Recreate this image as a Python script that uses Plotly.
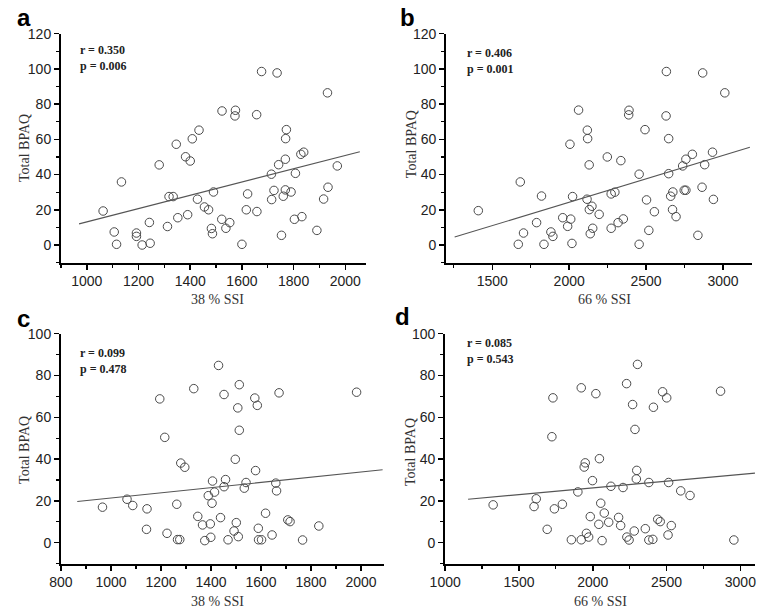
import plotly.graph_objects as go

W, H = 761, 610

# ---------------- data ----------------
a_x = [1063, 1134, 1106, 1115, 1192, 1192, 1214, 1245, 1242, 1280,
       1312, 1318, 1334, 1346, 1352, 1382, 1400, 1390, 1408, 1434,
       1428, 1455, 1471, 1490, 1482, 1486, 1522, 1538, 1553, 1523,
       1575, 1573, 1657, 1676, 1736, 1931, 1600, 1617, 1622, 1658,
       1772, 1769, 1768, 1742, 1828, 1839, 1969, 1714, 1807, 1724,
       1768, 1790, 1760, 1715, 1933, 1916, 1803, 1832, 1753, 1890]
a_y = [19.3, 35.8, 7.4, 0.4, 6.8, 4.9, 0, 1, 12.8, 45.5,
       10.5, 27.5, 27.5, 57.2, 15.5, 50.1, 47.7, 17.2, 60.3, 65.2,
       26, 21.6, 20, 30.1, 9.4, 6.4, 14.6, 9.5, 12.7, 76.1,
       76.5, 73.3, 74, 98.5, 97.7, 86.4, 0.4, 20, 29, 19,
       65.5, 60.4, 48.7, 45.6, 51.5, 52.7, 44.9, 40.2, 40.7, 31,
       31.3, 30.1, 27.7, 25.8, 32.8, 26.1, 14.6, 16.1, 5.5, 8.3]
a_fit_x = [970, 2056]
a_fit_y = [12, 53]

b_x = [1409, 1682, 1820, 1669, 1703, 1788, 1836, 1881, 1894, 1958,
       1990, 2010, 2005, 2018, 2022,
       2061, 2118, 2120, 2130, 2116,
       2131, 2148, 2195, 2137, 2153, 2248, 2336, 2273, 2297, 2273,
       2318, 2352, 2389, 2387, 2455, 2455,
       2632, 2868, 3012, 2630,
       2493, 2647, 2647, 2738, 2759, 2801, 2932, 2881, 2503, 2554,
       2518, 2660, 2674, 2672, 2695, 2748, 2759, 2864, 2938, 2837]
b_y = [19.5, 35.8, 27.8, 0.4, 6.8, 12.7, 0.4, 7.4, 4.9, 15.5,
       10.6, 14.7, 57.2, 0.9, 27.5,
       76.6, 65.2, 60.4, 45.5, 26,
       20.1, 22, 17.4, 6.4, 9.5, 50, 47.9, 29, 30, 9.5,
       12.7, 14.8, 76.5, 73.9, 0.4, 40.2,
       98.5, 97.7, 86.4, 73.3,
       65.5, 60.4, 40.5, 44.9, 48.7, 51.5, 52.7, 45.6, 25.6, 18.9,
       8.3, 27.7, 30.1, 20.1, 16.1, 31.1, 31.1, 32.8, 25.9, 5.5]
b_fit_x = [1255, 3175]
b_fit_y = [4.5, 55.5]

c_x = [966, 1064, 1087, 1144, 1142, 1195, 1215, 1224, 1263, 1279,
       1295, 1266, 1275, 1331, 1347, 1366, 1375, 1430, 1513, 1452,
       1575, 1585, 1507, 1672, 1982, 1513, 1497, 1578, 1458, 1406,
       1452, 1414, 1389, 1404, 1540, 1533, 1659, 1662, 1618, 1707,
       1716, 1831, 1438, 1501, 1397, 1492, 1589, 1644, 1399, 1468,
       1509, 1590, 1602, 1766]
c_y = [17, 20.8, 17.8, 16.2, 6.4, 68.8, 50.4, 4.5, 18.4, 38.1,
       36.1, 1.5, 1.5, 73.7, 12.6, 8.5, 1, 84.8, 75.6, 70.9,
       69.2, 65.7, 64.5, 71.7, 72, 53.8, 39.9, 34.5, 30.2, 29.5,
       26.8, 24.2, 22.5, 18.9, 28.8, 26.1, 28.5, 24.8, 14.1, 10.9,
       10.1, 8, 12, 9.6, 9, 5.6, 6.9, 3.7, 2.6, 1.4,
       2.9, 1.4, 1.4, 1.3]
c_fit_x = [865, 2086]
c_fit_y = [19.7, 34.9]

d_x = [1325, 1602, 1617, 1740, 1794, 1691, 1730, 1723, 1855, 1899,
       1922, 2021, 1942, 1949, 2045, 1998, 2054, 2078, 1983, 2041,
       2108, 1922, 1957, 1972, 2063, 2123, 2205, 2175, 2189, 2229,
       2270, 2286, 2303, 2298, 2295, 2231, 2246, 2281, 2473, 2501,
       2411, 2866, 2380, 2514, 2596, 2659, 2440, 2457, 2532, 2510,
       2356, 2380, 2407, 2956]
d_y = [18.1, 17.3, 21, 16.2, 18.4, 6.4, 69.3, 50.7, 1.4, 24.3,
       74.1, 71.3, 36.2, 38.2, 40.2, 29.7, 18.9, 14.2, 12.5, 8.8,
       9.8, 1.4, 4.5, 2.7, 1, 27, 26.4, 12.1, 8.2, 76.1,
       66.1, 54.2, 85.3, 34.6, 30.5, 2.7, 1.3, 5.6, 72.2, 69.3,
       64.8, 72.5, 28.8, 28.8, 24.8, 22.6, 11.2, 10.1, 8.2, 3.7,
       6.7, 1.3, 1.6, 1.3]
d_fit_x = [1155, 3099]
d_fit_y = [20.8, 33.3]

panel_letters = ["a", "b", "c", "d"]
x_titles = ["38 % SSI", "66 % SSI", "38 % SSI", "66 % SSI"]
y_title = "Total BPAQ"
r_texts = ["r = 0.350", "r = 0.406", "r = 0.099", "r = 0.085"]
p_texts = ["p = 0.006", "p = 0.001", "p = 0.478", "p = 0.543"]

# ---------------- layout geometry (pixels) ----------------
panels = [
    dict(x=a_x, y=a_y, fx=a_fit_x, fy=a_fit_y, xr=[900, 2080], yr=[-10, 120],
         dx=200, mx=100, t0=1000, px=(46, 358), py=(26, 258),
         letter=(8, 10), ytit=(8, 142), xtit=(206, 295), rp=(63, 40)),
    dict(x=b_x, y=b_y, fx=b_fit_x, fy=b_fit_y, xr=[1200, 3190], yr=[-10, 120],
         dx=500, mx=250, t0=1000, px=(440, 753), py=(26, 258),
         letter=(400, 10), ytit=(404, 138), xtit=(602, 295), rp=(459, 43)),
    dict(x=c_x, y=c_y, fx=c_fit_x, fy=c_fit_y, xr=[800, 2090], yr=[-10, 100],
         dx=200, mx=100, t0=800, px=(46, 376), py=(330, 563),
         letter=(8, 315), ytit=(8, 448), xtit=(206, 601), rp=(63, 347)),
    dict(x=d_x, y=d_y, fx=d_fit_x, fy=d_fit_y, xr=[1000, 3100], yr=[-10, 100],
         dx=500, mx=250, t0=1000, px=(439, 756), py=(330, 563),
         letter=(395, 313), ytit=(403, 450), xtit=(598, 601), rp=(459, 337)),
]

fig = go.Figure()
layout = dict(width=W, height=H, margin=dict(l=0, r=0, t=0, b=0),
              paper_bgcolor="white", plot_bgcolor="white", showlegend=False)
annotations = []

tickfont = dict(family="Liberation Sans, Arial, sans-serif", size=14, color="#222")
serif = "Liberation Serif, Times New Roman, serif"

for i, p in enumerate(panels):
    n = "" if i == 0 else str(i + 1)
    xa, ya = "x" + n, "y" + n
    fig.add_trace(go.Scatter(
        x=p["x"], y=p["y"], mode="markers", xaxis=xa, yaxis=ya,
        marker=dict(symbol="circle-open", size=8.5, color="#4a4a4a",
                    line=dict(width=1, color="#4a4a4a")),
        hoverinfo="skip"))
    fig.add_trace(go.Scatter(
        x=p["fx"], y=p["fy"], mode="lines", xaxis=xa, yaxis=ya,
        line=dict(color="#555", width=1.1), hoverinfo="skip"))

    common = dict(showline=True, linecolor="black", linewidth=2,
                  ticks="outside", ticklen=5, tickwidth=1.5, tickcolor="black",
                  showgrid=False, zeroline=False, tickfont=tickfont)
    layout["xaxis" + n] = dict(
        common, domain=[p["px"][0] / W, p["px"][1] / W], range=p["xr"],
        anchor=ya, tick0=p["t0"], dtick=p["dx"],
        minor=dict(ticks="outside", ticklen=3, tickwidth=1.2, tickcolor="black",
                   dtick=p["mx"], tick0=p["t0"], showgrid=False))
    layout["yaxis" + n] = dict(
        common, domain=[1 - p["py"][1] / H, 1 - p["py"][0] / H], range=p["yr"],
        anchor=xa, tick0=0, dtick=20,
        minor=dict(ticks="outside", ticklen=3, tickwidth=1.2, tickcolor="black",
                   dtick=10, tick0=0, showgrid=False))

    annotations.append(dict(
        text="<b>%s</b>" % panel_letters[i], x=p["letter"][0] / W, y=1 - p["letter"][1] / H,
        xref="paper", yref="paper", showarrow=False, xanchor="center", yanchor="middle",
        font=dict(family="Liberation Sans, Arial, sans-serif", size=24, color="black")))
    annotations.append(dict(
        text=y_title, x=p["ytit"][0] / W, y=1 - p["ytit"][1] / H, textangle=-90,
        xref="paper", yref="paper", showarrow=False, xanchor="center", yanchor="middle",
        font=dict(family=serif, size=14, color="#333")))
    annotations.append(dict(
        text=x_titles[i], x=p["xtit"][0] / W, y=1 - p["xtit"][1] / H,
        xref="paper", yref="paper", showarrow=False, xanchor="center", yanchor="middle",
        font=dict(family=serif, size=14, color="#333")))
    annotations.append(dict(
        text="<b>%s</b><br><b>%s</b>" % (r_texts[i], p_texts[i]),
        x=p["rp"][0] / W, y=1 - (p["rp"][1] - 7) / H, align="left",
        xref="paper", yref="paper", showarrow=False, xanchor="left", yanchor="top",
        font=dict(family=serif, size=12, color="#222")))

layout["annotations"] = annotations
fig.update_layout(**layout)
fig.write_html("out.html",
               config={"displayModeBar": False, "staticPlot": True},
               post_script="document.body.style.margin='0';document.body.style.overflow='hidden';")
